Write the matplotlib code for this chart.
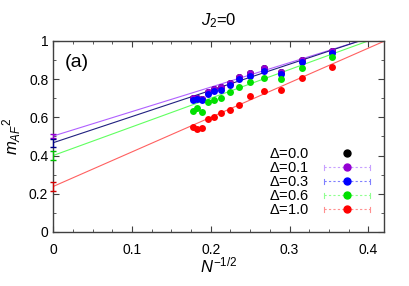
import matplotlib
matplotlib.use("Agg")
import matplotlib.pyplot as plt
from matplotlib.legend_handler import HandlerBase
from matplotlib.lines import Line2D
from matplotlib.ticker import MultipleLocator

plt.rcParams['font.family'] = ['Liberation Sans', 'DejaVu Sans']
plt.rcParams['mathtext.fontset'] = 'custom'
plt.rcParams['mathtext.it'] = 'Liberation Sans:italic'
plt.rcParams['mathtext.rm'] = 'Liberation Sans'

# N^-1/2 for N = 32 ... 8
x = [0.177, 0.183, 0.189, 0.196, 0.204, 0.213, 0.224, 0.236, 0.250, 0.267, 0.289, 0.316, 0.354]

m_d00 = [0.703, 0.702, 0.695, 0.733, 0.750, 0.757, 0.782, 0.813, 0.831, 0.857, 0.839, 0.901, 0.949]
m_d01 = [0.703, 0.702, 0.695, 0.733, 0.750, 0.757, 0.782, 0.813, 0.831, 0.857, 0.839, 0.901, 0.949]
m_d03 = [0.691, 0.698, 0.691, 0.723, 0.738, 0.743, 0.771, 0.799, 0.818, 0.843, 0.826, 0.888, 0.939]
m_d06 = [0.634, 0.651, 0.628, 0.682, 0.690, 0.702, 0.731, 0.759, 0.784, 0.808, 0.799, 0.860, 0.915]
m_d10 = [0.551, 0.538, 0.546, 0.592, 0.602, 0.623, 0.639, 0.667, 0.712, 0.738, 0.743, 0.805, 0.864]

labels = [r'$\mathit{Δ}$=0.0', r'$\mathit{Δ}$=0.1', r'$\mathit{Δ}$=0.3',
          r'$\mathit{Δ}$=0.6', r'$\mathit{Δ}$=1.0']
series = [m_d00, m_d01, m_d03, m_d06, m_d10]

# extrapolated values at N -> infinity and fit slopes
intercepts = [None, 0.502, 0.467, 0.400, 0.238]
intercept_err = [None, 0.012, 0.022, 0.025, 0.025]
slopes = [None, 1.28, 1.37, 1.50, 1.81]

point_colors = ['black', '#9400d3', '#0000ff', '#00e000', '#ff0000']
err_colors = ['black', '#9400d3', '#00008b', '#00c000', '#d00000']
line_colors = ['black', '#b060ff', '#202080', '#60ff60', '#ff6060']
legend_err_colors = ['white', '#c8a0ff', '#8080ff', '#90ff90', '#ff9090']


class ErrHandler(HandlerBase):
    def create_artists(self, legend, orig, xd, yd, w, h, fontsize, trans):
        c, lc = orig.get_color(), orig.get_markeredgecolor()
        y0 = h / 2 - yd
        x0, x1 = -xd, -xd + w
        out = []
        if lc != 'white':
            out.append(Line2D([x0, x1], [y0, y0], color=lc, lw=0.8, ls=(0, (2, 2)), transform=trans))
            for xx in (x0, x1):
                out.append(Line2D([xx, xx], [y0 - 2, y0 + 2], color=lc, lw=0.8, transform=trans))
        out.append(Line2D([(x0 + x1) / 2], [y0], marker='o', ms=5, color=c, ls='none', transform=trans))
        return out


fig = plt.figure(figsize=(4.09, 2.86), dpi=100)
ax = fig.add_axes([0.13, 0.189, 0.809, 0.668])

xs = [0, 0.42]
for i in range(5):
    ax.plot(x, series[i], 'o', color=point_colors[i], ms=5, mec='none', zorder=3)
    if intercepts[i] is not None:
        ax.plot(xs, [intercepts[i] + slopes[i] * v for v in xs], color=line_colors[i], lw=0.8, zorder=2)
        ax.errorbar([0], [intercepts[i]], yerr=[intercept_err[i]], color=err_colors[i],
                    capsize=2, lw=0.9, fmt='none', zorder=4, clip_on=False)

handles = [Line2D([], [], color=point_colors[i], mec=legend_err_colors[i]) for i in range(5)]
ax.legend(handles, labels, loc='lower right', bbox_to_anchor=(0.985, 0.03), frameon=False,
          markerfirst=False, handler_map={Line2D: ErrHandler()}, fontsize=10.5,
          handlelength=3.2, labelspacing=0.0, handletextpad=1.0, borderaxespad=0.2)

ax.set_xlim(0, 0.42)
ax.set_ylim(0, 1)
ax.xaxis.set_major_locator(MultipleLocator(0.1))
ax.xaxis.set_minor_locator(MultipleLocator(0.025))
ax.yaxis.set_major_locator(MultipleLocator(0.2))
ax.yaxis.set_minor_locator(MultipleLocator(0.1))
ax.set_xticks([0, 0.1, 0.2, 0.3, 0.4], ['0', '0.1', '0.2', '0.3', '0.4'])
ax.set_yticks([0, 0.2, 0.4, 0.6, 0.8, 1.0], ['0', '0.2', '0.4', '0.6', '0.8', '1'])
ax.tick_params(which='both', direction='in', top=True, right=True, labelsize=10, color='#404040')
ax.tick_params(which='major', length=4)
ax.tick_params(which='minor', length=2)
ax.tick_params(axis='x', pad=8)
for s in ax.spines.values():
    s.set_color('#404040')
    s.set_linewidth(1.0)

ax.set_xlabel(r'$N^{\mathrm{-1/2}}$', fontsize=12, labelpad=-1)
ax.set_ylabel(r'$m_{AF}{}^{2}$', fontsize=12, labelpad=4)
ax.set_title(r'$J_2$=0', fontsize=12, pad=11)
ax.text(0.035, 0.93, '(a)', transform=ax.transAxes, fontsize=14, va='top')

fig.savefig('out.png', dpi=100)
